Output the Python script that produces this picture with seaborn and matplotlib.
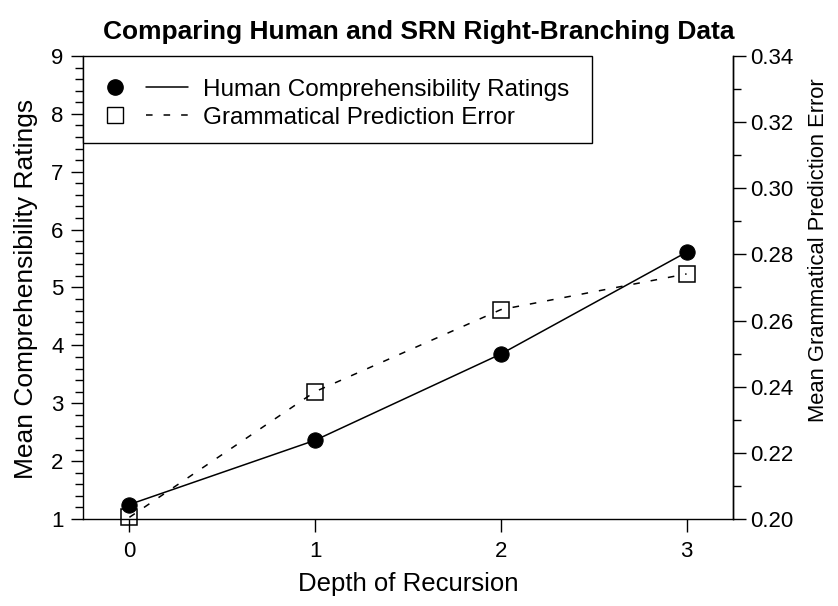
import numpy as np
import pandas as pd
import matplotlib
matplotlib.use('Agg')
import matplotlib.pyplot as plt
from matplotlib.lines import Line2D
from matplotlib.patches import Rectangle
from matplotlib.legend_handler import HandlerTuple
from matplotlib.ticker import MultipleLocator
import seaborn as sns

# ── data ───────────────────────────────────────────────────────────
depth = [0, 1, 2, 3]
human_ratings = [1.25, 2.36, 3.85, 5.61]
srn_error = [0.2005, 0.2385, 0.2633, 0.2741]

df = pd.DataFrame({'depth': depth,
                   'human': human_ratings,
                   'srn': srn_error})

# ── setup ──────────────────────────────────────────────────────────
sns.set_theme(style='white')
plt.rcParams['font.family'] = ['Liberation Sans', 'DejaVu Sans']
plt.rcParams['text.color'] = 'black'

TICK_FS = 16
LEG_FS = 17.5
DASH = (4.3, 7.2)

fig = plt.figure(figsize=(8.38, 6.06), dpi=100)
ax = fig.add_axes([0.099, 0.1436, 0.7757, 0.764])
ax2 = ax.twinx()

# human ratings: filled circles, solid line
sns.lineplot(data=df, x='depth', y='human', ax=ax,
             color='black', linewidth=1.1, linestyle='-',
             marker='o', markersize=11, markeredgecolor='black',
             markerfacecolor='black', zorder=3, clip_on=False)

# SRN prediction error: open squares, dashed line
sns.lineplot(data=df, x='depth', y='srn', ax=ax2,
             color='black', linewidth=1.1,
             marker='s', markersize=12, markeredgecolor='black',
             markerfacecolor='none', markeredgewidth=1.1, zorder=3,
             clip_on=False)
ax2.lines[0].set_dashes(DASH)

# ── axes ───────────────────────────────────────────────────────────
ax.set_xlim(-0.25, 3.25)
ax.set_ylim(1, 9)
ax2.set_ylim(0.20, 0.34)
ax.set_xticks(depth)
ax.yaxis.set_major_locator(MultipleLocator(1))
ax.yaxis.set_minor_locator(MultipleLocator(0.2))
ax2.yaxis.set_major_locator(MultipleLocator(0.02))
ax2.yaxis.set_minor_locator(MultipleLocator(0.01))
ax2.yaxis.set_major_formatter(plt.FormatStrFormatter('%.2f'))

for a in (ax, ax2):
    a.spines['top'].set_visible(False)
    for s in a.spines.values():
        s.set_color('black')
        s.set_linewidth(1.0)
    a.tick_params(which='both', direction='out', color='black',
                  labelsize=TICK_FS, labelcolor='black')
    a.tick_params(which='major', length=9, width=1.0)
    a.tick_params(which='minor', length=6, width=1.0)
ax.tick_params(axis='x', bottom=True, pad=7)
ax.tick_params(axis='y', left=True, pad=5)
ax2.tick_params(axis='y', right=True, pad=3)
ax2.spines['left'].set_visible(False)
ax2.spines['bottom'].set_visible(False)

ax.set_xlabel('Depth of Recursion', fontsize=18.5, color='black',
              labelpad=7)
ax.set_ylabel('Mean Comprehensibility Ratings', fontsize=19,
              color='black')
ax.yaxis.set_label_coords(-0.069, 0.497)
ax2.set_ylabel('Mean Grammatical Prediction Error', fontsize=15.8,
               color='black')
ax2.yaxis.set_label_coords(1.116, 0.581)

fig.suptitle('Comparing Human and SRN Right-Branching Data',
             fontsize=19, fontweight='bold', color='black',
             x=0.5, y=0.967)

# ── legend ─────────────────────────────────────────────────────────
# frame drawn as a separate box hugging the top-left corner
ax.add_patch(Rectangle((0, 0.812), 0.783, 0.188, transform=ax.transAxes,
                       facecolor='white', edgecolor='black',
                       linewidth=1.0, zorder=4, clip_on=False))

h_mark = Line2D([], [], marker='o', color='black', linestyle='none',
                markersize=11)
h_line = Line2D([], [], color='black', linewidth=1.1)
s_mark = Line2D([], [], marker='s', color='black', linestyle='none',
                markersize=11.5, markerfacecolor='white')
s_line = Line2D([], [], color='black', linewidth=1.1, dashes=DASH)
leg = ax.legend([(h_mark, h_line), (s_mark, s_line)],
                ['Human Comprehensibility Ratings',
                 'Grammatical Prediction Error'],
                handler_map={tuple: HandlerTuple(ndivide=2, pad=0.41)},
                loc='upper left', bbox_to_anchor=(0.017, 0.951),
                handlelength=3.87, handletextpad=0.62,
                fontsize=LEG_FS, frameon=False,
                borderpad=0, labelspacing=0.25, borderaxespad=0)
leg.set_zorder(5)

plt.savefig('out.png', dpi=100)
